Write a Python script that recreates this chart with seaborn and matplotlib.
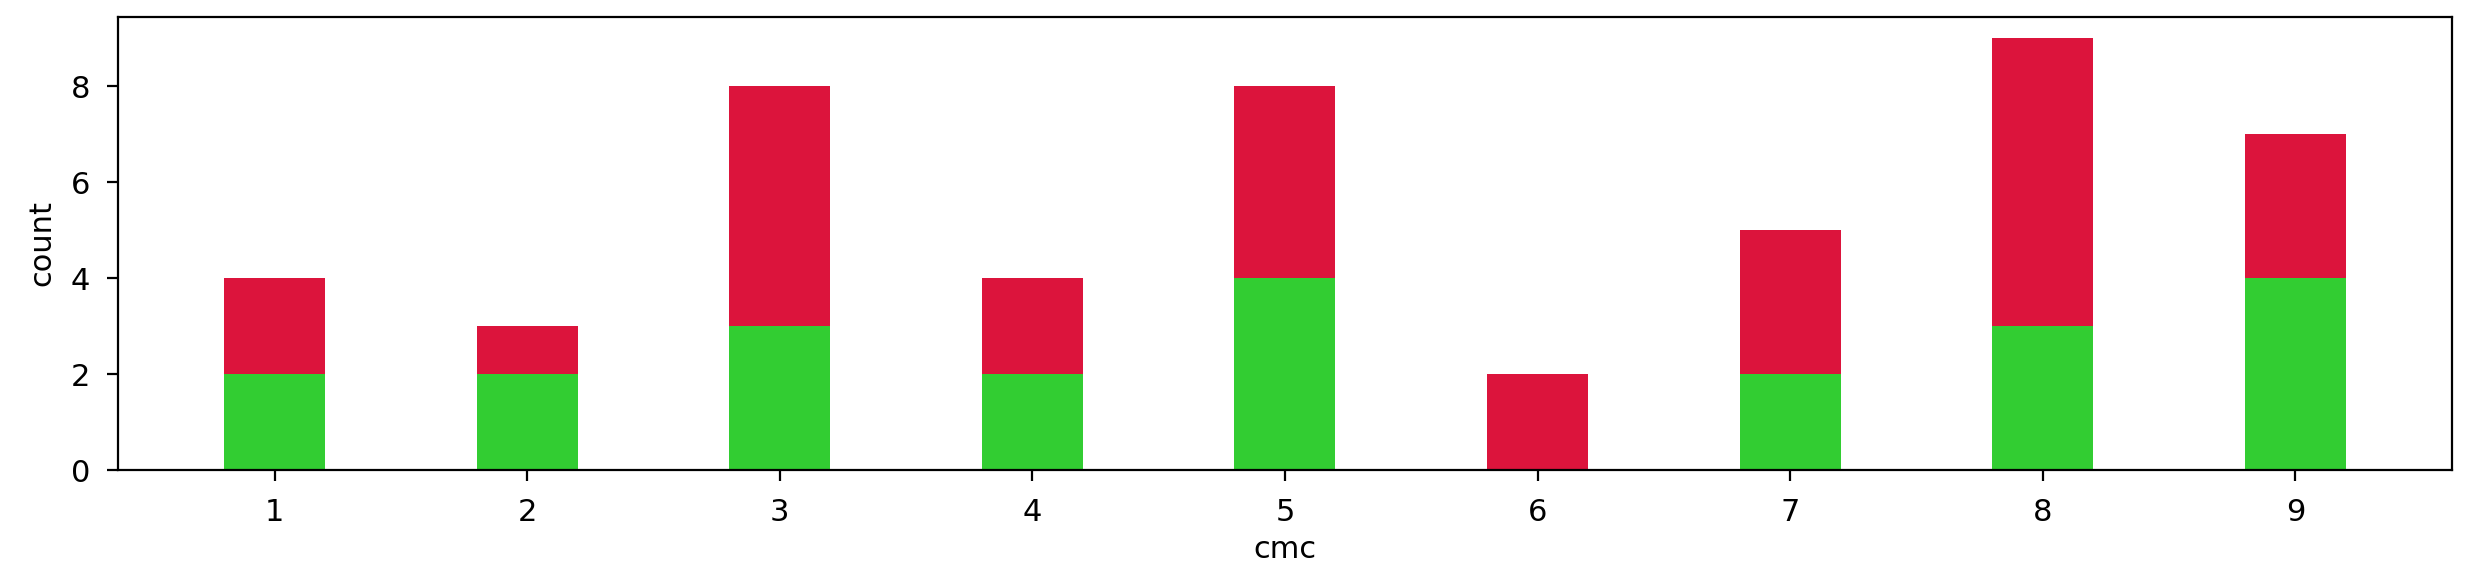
import matplotlib
matplotlib.use("Agg")
import matplotlib.pyplot as plt
import seaborn as sns
import pandas as pd

# counts per converted mana cost, split in two groups
cmc = [1, 2, 3, 4, 5, 6, 7, 8, 9]
green_counts = [2, 2, 3, 2, 4, 0, 2, 3, 4]
red_counts = [2, 1, 5, 2, 4, 2, 3, 6, 3]

df = pd.DataFrame({"cmc": cmc, "green": green_counts, "red": red_counts})
df["total"] = df["green"] + df["red"]

plt.rcParams["font.size"] = 11

fig, ax = plt.subplots(figsize=(2473 / 200, 561 / 200), dpi=200)
fig.subplots_adjust(left=0.0477, right=0.9915, top=0.970, bottom=0.162)

# stacked look: full total in red, green drawn over the bottom part
sns.barplot(data=df, x="cmc", y="total", color="crimson", width=0.4,
            saturation=1, linewidth=0, ax=ax)
sns.barplot(data=df, x="cmc", y="green", color="limegreen", width=0.4,
            saturation=1, linewidth=0, ax=ax)

n = len(cmc)
ax.set_xlim(-0.2 - 0.42, n - 1 + 0.2 + 0.42)
ax.set_ylim(0, df["total"].max() * 1.05)
ax.tick_params(length=4, pad=6)
ax.set_xlabel("cmc", labelpad=3)
ax.set_ylabel("count", labelpad=5)

fig.savefig("out.png", dpi=200)
